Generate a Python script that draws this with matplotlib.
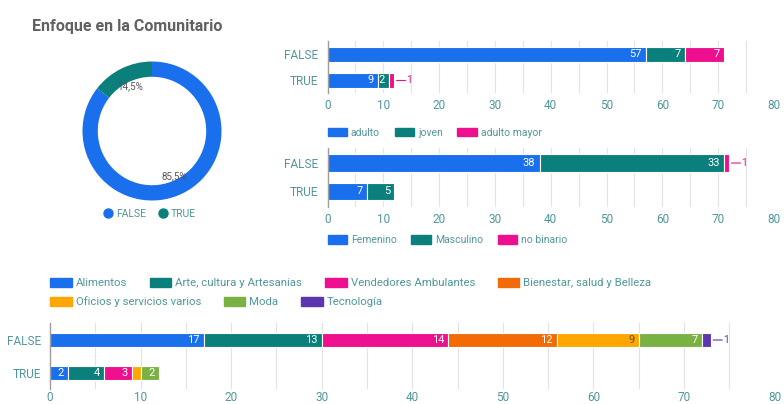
import matplotlib

matplotlib.use("Agg")
import matplotlib.pyplot as plt
from matplotlib.patches import Rectangle
from matplotlib.lines import Line2D
from matplotlib.ticker import MultipleLocator

plt.rcParams["font.family"] = ["Roboto", "DejaVu Sans"]

W, H = 784, 404

# ---- datos ----
titulo = "Enfoque en la Comunitario"
categorias = ["FALSE", "TRUE"]

pie_valores = [85.5, 14.5]

edad_series = ["adulto", "joven", "adulto mayor"]
edad_false = [57, 7, 7]
edad_true = [9, 2, 1]

genero_series = ["Femenino", "Masculino", "no binario"]
genero_false = [38, 33, 1]
genero_true = [7, 5, 0]

rubro_series = ["Alimentos", "Arte, cultura y Artesanias", "Vendedores Ambulantes",
                "Bienestar, salud y Belleza", "Oficios y servicios varios", "Moda",
                "Tecnología"]
rubro_false = [17, 13, 14, 12, 9, 7, 1]
rubro_true = [2, 4, 3, 0, 1, 2, 0]

AZUL, TEAL, ROSA = "#1a6fec", "#0b7f7c", "#ee0f8f"
NARANJA, AMARILLO, VERDE, MORADO = "#f26b06", "#ffa600", "#79b243", "#5b36b0"
colores_rubro = [AZUL, TEAL, ROSA, NARANJA, AMARILLO, VERDE, MORADO]
TXT = "#4f979c"
GRIS = "#616161"


def rect(left, top, right, bottom):
    return [left / W, 1 - bottom / H, (right - left) / W, (bottom - top) / H]


def barras(ax, valores_por_cat, colores, altura, ylim, pad_x=4):
    n = len(colores)
    for i, vals in enumerate(valores_por_cat):
        izq = 0
        for j in range(n):
            v = vals[j]
            if v <= 0:
                continue
            ax.barh(i, v, left=izq, height=altura, color=colores[j],
                    edgecolor="white", linewidth=0.8, zorder=3)
            ultimo = all(x == 0 for x in vals[j + 1:])
            if v >= 2:
                col = "#6b4f00" if colores[j] == AMARILLO else "white"
                ax.annotate(str(v), (izq + v, i), xytext=(-3, 0),
                            textcoords="offset points", ha="right", va="center",
                            fontsize=8, color=col, zorder=4)
            elif ultimo:
                ax.annotate("", xy=(izq + v, i), xytext=(8, 0),
                            textcoords="offset points",
                            arrowprops=dict(arrowstyle="-", color=colores[j],
                                            lw=0.8, shrinkA=0, shrinkB=1.5))
                ax.annotate(str(v), (izq + v, i), xytext=(8.5, 0),
                            textcoords="offset points", ha="left", va="center",
                            fontsize=7.5, color=colores[j])
            izq += v
    ax.set_xlim(0, 80)
    ax.set_ylim(*ylim)
    ax.set_yticks(range(len(categorias)))
    ax.set_yticklabels(categorias)
    ax.xaxis.set_major_locator(MultipleLocator(10))
    ax.xaxis.set_minor_locator(MultipleLocator(5))
    ax.grid(True, axis="x", which="both", color="#e3e3e3", lw=0.8, zorder=0)
    for s in ["top", "right", "bottom"]:
        ax.spines[s].set_visible(False)
    ax.spines["left"].set_color("#9e9e9e")
    ax.spines["left"].set_linewidth(1.0)
    ax.spines["left"].set_zorder(5)
    ax.tick_params(axis="x", which="both", length=0, pad=pad_x, labelsize=8.5,
                   labelcolor=TXT)
    ax.tick_params(axis="y", length=0, pad=6.5, labelsize=8.5, labelcolor=TXT)


def leyenda(fig, nombres, colores, x, y, fs, colsp, hl=1.9, hh=0.85):
    handles = [Rectangle((0, 0), 1, 1, color=c) for c in colores]
    fig.legend(handles, nombres, loc="center left",
               bbox_to_anchor=(x / W, 1 - y / H), ncol=len(nombres),
               frameon=False, fontsize=fs, labelcolor=TXT, borderpad=0,
               borderaxespad=0, handlelength=hl, handleheight=hh,
               handletextpad=0.35, columnspacing=colsp)


fig = plt.figure(figsize=(W / 100, H / 100), dpi=100)
fig.patch.set_facecolor("white")

fig.text(32 / W, 1 - 27 / H, titulo, fontsize=11.5, weight="bold", color=GRIS,
         va="center", ha="left")

# ---- dona ----
axp = fig.add_axes(rect(82.5, 61.5, 221.5, 200.5))
axp.pie(pie_valores, colors=[AZUL, TEAL], startangle=90, counterclock=False,
        radius=1, wedgeprops=dict(width=0.22, edgecolor="none"),
        autopct=lambda p: f"{p:.1f}%".replace(".", ","), pctdistance=0.72,
        textprops=dict(fontsize=7, color="#555555"))
axp.set_xlim(-1, 1)
axp.set_ylim(-1, 1)
axp.set_aspect("equal")
axp.axis("off")

h_pie = [Line2D([], [], marker="o", ls="none", color=c, markersize=6.5)
         for c in [AZUL, TEAL]]
fig.legend(h_pie, categorias, loc="center", bbox_to_anchor=(150 / W, 1 - 214 / H),
           ncol=2, frameon=False, fontsize=7.5, labelcolor=TXT, borderpad=0,
           handlelength=0.8, handletextpad=0.3, columnspacing=1.3)

# ---- edad ----
ax1 = fig.add_axes(rect(327.5, 41, 774, 93))
barras(ax1, [edad_false, edad_true], [AZUL, TEAL, ROSA], 0.57, (1.475, -0.5))
leyenda(fig, edad_series, [AZUL, TEAL, ROSA], 327.5, 132.5, 7.5, 1.4)

# ---- genero ----
ax2 = fig.add_axes(rect(327.5, 148, 774, 207))
barras(ax2, [genero_false, genero_true], [AZUL, TEAL, ROSA], 0.62, (1.55, -0.53))
leyenda(fig, genero_series, [AZUL, TEAL, ROSA], 327.5, 240, 7.5, 1.4)

# ---- rubro ----
leyenda(fig, rubro_series[:4], colores_rubro[:4], 50, 283, 8.2, 2.0, hh=0.95)
leyenda(fig, rubro_series[4:], colores_rubro[4:], 50, 302, 8.2, 2.0, hh=0.95)
ax3 = fig.add_axes(rect(50, 323, 774.5, 389))
barras(ax3, [rubro_false, rubro_true], colores_rubro, 0.42, (1.485, -0.515),
       pad_x=1.5)

fig.savefig("out.png", dpi=100, facecolor="white")
